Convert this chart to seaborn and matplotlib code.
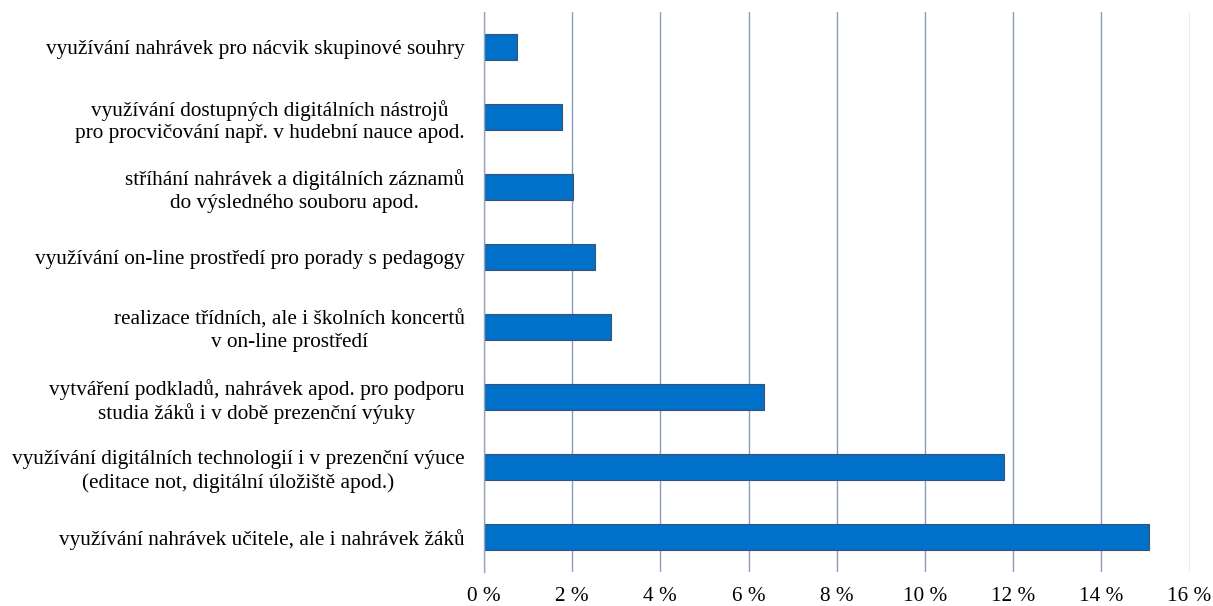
import matplotlib
matplotlib.use("Agg")
import matplotlib.pyplot as plt
import seaborn as sns
import pandas as pd
from matplotlib.ticker import FuncFormatter, MultipleLocator

categories = [
    "využívání nahrávek pro nácvik skupinové souhry",
    "využívání dostupných digitálních nástrojů\npro procvičování např. v hudební nauce apod.",
    "stříhání nahrávek a digitálních záznamů\ndo výsledného souboru apod.",
    "využívání on-line prostředí pro porady s pedagogy",
    "realizace třídních, ale i školních koncertů\nv on-line prostředí",
    "vytváření podkladů, nahrávek apod. pro podporu\nstudia žáků i v době prezenční výuky",
    "využívání digitálních technologií i v prezenční výuce\n(editace not, digitální úložiště apod.)",
    "využívání nahrávek učitele, ale i nahrávek žáků",
]
values = [0.76, 1.77, 2.02, 2.52, 2.88, 6.35, 11.8, 15.09]

df = pd.DataFrame({"kategorie": categories, "podil": values})

sns.set_style("white")
plt.rcParams["font.family"] = ["Liberation Serif", "DejaVu Serif"]

fig = plt.figure(figsize=(12.13, 6.06), dpi=100)
ax = fig.add_axes([0.399, 0.0561, 0.582, 0.924])

sns.barplot(data=df, x="podil", y="kategorie", orient="h", color="#0070C9",
            width=0.36, edgecolor="#3C5070", linewidth=0.8, saturation=1, ax=ax)

ax.set_xlim(0, 16.01)
ax.set_ylim(7.5, -0.5)
ax.xaxis.set_major_locator(MultipleLocator(2))
ax.xaxis.set_major_formatter(FuncFormatter(lambda v, p: f"{v:.0f} %"))
ax.grid(axis="x", color="#8A9BBE", linewidth=1.0)
ax.set_axisbelow(True)
for s in ["top", "right", "bottom"]:
    ax.spines[s].set_visible(False)
ax.spines["left"].set_color("#9AA6BE")
ax.spines["left"].set_linewidth(1.0)
ax.set_xlabel("")
ax.set_ylabel("")
ax.tick_params(axis="y", length=0, pad=14, labelsize=15.3, colors="black")
ax.tick_params(axis="x", length=0, pad=10.5, labelsize=15.3, colors="black")
for t in ax.get_yticklabels():
    t.set_multialignment("center")
    t.set_linespacing(1.25)

fig.savefig("out.png", dpi=100)
